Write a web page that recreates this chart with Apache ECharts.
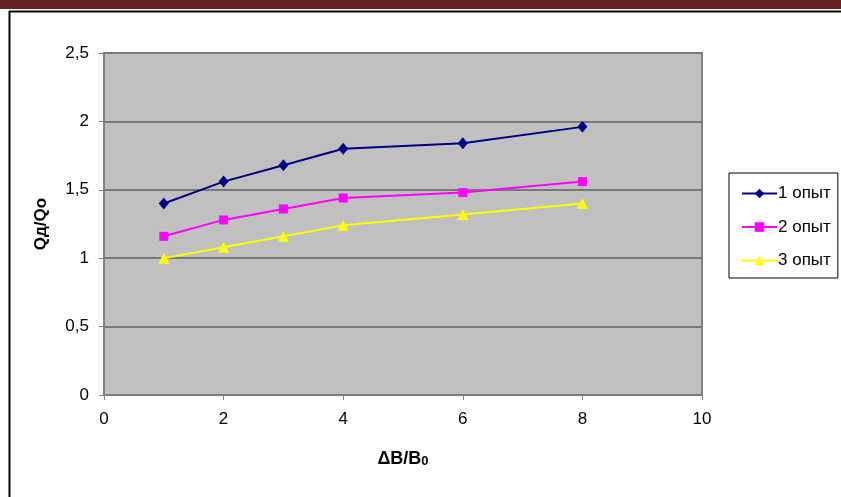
<!DOCTYPE html>
<html>
<head>
<meta charset="utf-8">
<script src="https://cdn.jsdelivr.net/npm/echarts@6/dist/echarts.min.js"></script>
<style>
html,body{margin:0;padding:0;background:#fff;}
#c{width:841px;height:497px;}
</style>
</head>
<body>
<div id="c"></div>
<script>
const xValues = [1, 2, 3, 4, 6, 8];
const seriesNames = ['1 опыт', '2 опыт', '3 опыт'];
const exp1 = [1.40, 1.56, 1.68, 1.80, 1.84, 1.96];
const exp2 = [1.16, 1.28, 1.36, 1.44, 1.48, 1.56];
const exp3 = [1.00, 1.08, 1.16, 1.24, 1.32, 1.40];
const xTicks = [0, 2, 4, 6, 8, 10];
const yTicks = ['0', '0,5', '1', '1,5', '2', '2,5'];

const FONT = '"Liberation Sans", Arial, sans-serif';
const pair = arr => xValues.map((x, i) => [x, arr[i]]);

const chart = echarts.init(document.getElementById('c'), null, {renderer: 'canvas'});
chart.setOption({
  animation: false,
  backgroundColor: '#ffffff',
  textStyle: {fontFamily: FONT},
  graphic: [
    {type: 'rect', shape: {x: 0, y: 0, width: 841, height: 9}, style: {fill: '#642222'}, z: 10},
    {type: 'line', shape: {x1: 9, y1: 11.5, x2: 841, y2: 11.5}, style: {stroke: '#000', lineWidth: 2}, z: 10},
    {type: 'line', shape: {x1: 9.5, y1: 11, x2: 9.5, y2: 497}, style: {stroke: '#000', lineWidth: 2}, z: 10}
  ],
  grid: {
    left: 104, top: 53, right: 139, bottom: 102,
    show: true, backgroundColor: '#c0c0c0', borderColor: '#808080', borderWidth: 2
  },
  xAxis: {
    type: 'value', min: 0, max: 10, interval: 2,
    name: '{a|ΔB/B}{s|0}', nameLocation: 'middle', nameGap: 55,
    nameTextStyle: {rich: {
      a: {fontFamily: FONT, fontSize: 18, fontWeight: 'bold', color: '#000'},
      s: {fontFamily: FONT, fontSize: 13, fontWeight: 'bold', color: '#000', verticalAlign: 'bottom', padding: [5, 0, 0, 0]}
    }},
    axisLine: {lineStyle: {color: '#808080', width: 1}},
    axisTick: {show: true, length: 5, lineStyle: {color: '#808080'}},
    axisLabel: {fontFamily: FONT, fontSize: 17, color: '#000', margin: 16,
      formatter: v => String(xTicks[Math.round(v / 2)])},
    splitLine: {show: false}
  },
  yAxis: {
    type: 'value', min: 0, max: 2.5, interval: 0.5,
    name: 'Qд/Qo', nameLocation: 'middle', nameGap: 54,
    nameTextStyle: {fontFamily: FONT, fontSize: 17, fontWeight: 'bold', color: '#000'},
    axisLine: {show: true, lineStyle: {color: '#808080', width: 1}},
    axisTick: {show: true, length: 5, lineStyle: {color: '#808080'}},
    axisLabel: {fontFamily: FONT, fontSize: 17, color: '#000', margin: 15,
      formatter: v => yTicks[Math.round(v * 2)]},
    splitLine: {show: true, lineStyle: {color: '#787878', width: 2}}
  },
  legend: {
    orient: 'vertical', left: 729, top: 173,
    data: seriesNames,
    backgroundColor: '#fff',
    borderColor: '#000', borderWidth: 1,
    padding: [12, 7, 9, 12],
    itemGap: 16.5, itemWidth: 35, itemHeight: 12,
    textStyle: {fontFamily: FONT, fontSize: 17, color: '#000', padding: [0, 0, 0, -4]}
  },
  series: [
    {name: seriesNames[0], type: 'line', data: pair(exp1), symbol: 'diamond', symbolSize: [10, 12],
      lineStyle: {color: '#000080', width: 2}, itemStyle: {color: '#000080'}},
    {name: seriesNames[1], type: 'line', data: pair(exp2), symbol: 'rect', symbolSize: 9,
      lineStyle: {color: '#ff00ff', width: 2}, itemStyle: {color: '#ff00ff'}},
    {name: seriesNames[2], type: 'line', data: pair(exp3), symbol: 'triangle', symbolSize: 11,
      lineStyle: {color: '#ffff00', width: 2}, itemStyle: {color: '#ffff00'}}
  ]
});
</script>
</body>
</html>
